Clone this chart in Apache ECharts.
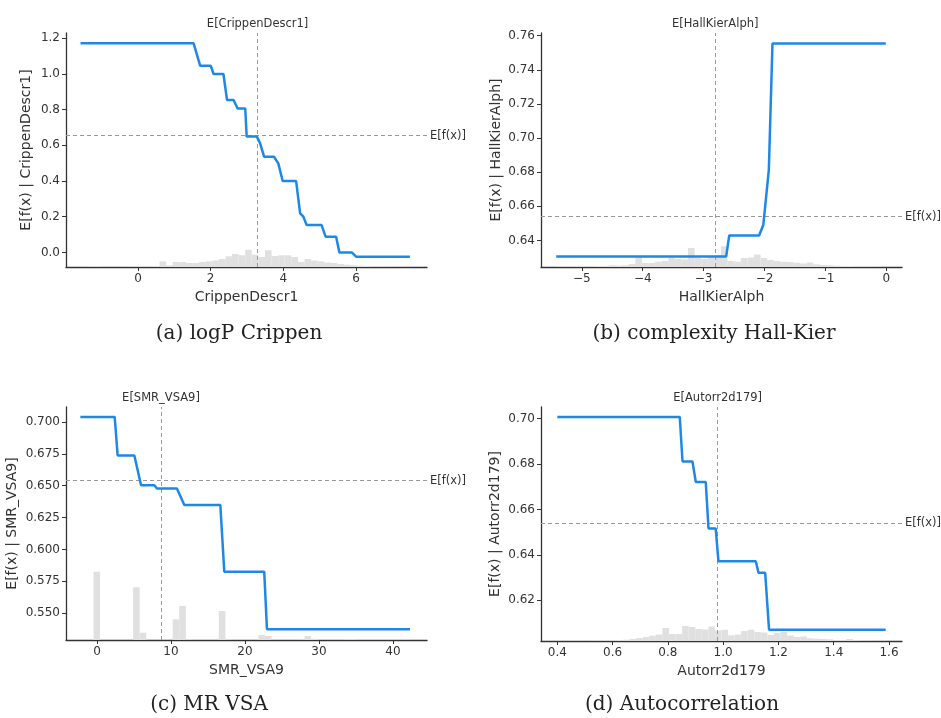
<!DOCTYPE html>
<html>
<head>
<meta charset="utf-8">
<script src="https://cdn.jsdelivr.net/npm/echarts@6/dist/echarts.min.js"></script>
<style>
  html, body { margin: 0; padding: 0; background: #fff; }
  #chart { width: 941px; height: 718px; }
</style>
</head>
<body>
<div id="chart"></div>
<script>
// (a) logP Crippen
var lineAx = [-1.58, 1.53, 1.71, 2.0, 2.08, 2.35, 2.45, 2.63, 2.74, 2.95, 2.99, 3.27, 3.36, 3.47, 3.74, 3.86, 3.98, 4.35, 4.46, 4.55, 4.64, 5.05, 5.16, 5.45, 5.54, 5.88, 6.0, 7.48];
var lineAy = [1.172, 1.172, 1.047, 1.047, 1.0, 1.0, 0.854, 0.854, 0.807, 0.807, 0.649, 0.649, 0.611, 0.536, 0.536, 0.499, 0.40, 0.40, 0.219, 0.20, 0.153, 0.153, 0.088, 0.088, 0.0, 0.0, -0.024, -0.024];
var histA = [0.3, 0.5, 0.5, 0.3, 0.3, 0.3, 0.3, 0.5, 0.5, 0.7, 0.7, 1, 5.7, 1.7, 5, 5, 4, 4, 5, 5.7,
             6.5, 8, 10.7, 13, 11.7, 17.3, 12.3, 10, 16.7, 11, 11.7, 11.7, 10, 5, 8, 6.5, 5.7, 4.5, 4, 3,
             2.3, 1.7, 1.3, 1, 0.7, 0.5, 0.5, 0.3, 0.3, 0.3];
var xTicksA = [0, 2, 4, 6];
var yTicksA = [0, 0.2, 0.4, 0.6, 0.8, 1.0, 1.2];
var expXA = 3.29;

// (b) complexity Hall-Kier
var lineBx = [-5.42, -2.63, -2.58, -2.09, -2.02, -1.93, -1.87, -0.01];
var lineBy = [0.6306, 0.6306, 0.6429, 0.6429, 0.6492, 0.6814, 0.7555, 0.7555];
var histB = [0.5, 0.5, 0.5, 0.7, 0.7, 0.7, 1, 1, 1.7, 1.3, 1.7, 3, 10, 4, 4, 5.3, 6, 9, 8, 7.5,
             19, 9, 8, 11, 12, 20.7, 6, 5.3, 9, 9.5, 12.5, 9, 7, 6, 5.3, 5, 4.3, 3.5, 4.5, 2.7,
             2, 1.7, 1.3, 1, 1, 0.7, 0.7, 0.5, 0.5, 0.3];
var xTicksB = [-5, -4, -3, -2, -1, 0];
var yTicksB = [0.64, 0.66, 0.68, 0.70, 0.72, 0.74, 0.76];
var expXB = -2.81;

// (c) MR VSA
var lineCx = [-2.25, 2.39, 2.79, 5.05, 5.95, 7.75, 8.1, 10.8, 11.8, 16.67, 17.2, 22.6, 22.97, 42.3];
var lineCy = [0.7039, 0.7039, 0.6737, 0.6737, 0.6504, 0.6504, 0.6478, 0.6478, 0.6348, 0.6348, 0.5826, 0.5826, 0.5374, 0.5374];
var histC = [0, 0, 68.3, 0, 0, 0, 0, 0, 52.7, 7.3, 0, 0, 0, 0, 20.7, 34, 0.7, 0.3, 0.3, 0.3,
             0.3, 29, 0.7, 0.3, 0.3, 0.3, 0.3, 5, 4, 0.3, 0.3, 0.3, 0.3, 0.5, 4, 1.3, 0.3, 0.3, 0.3, 0.3,
             0.7, 0.7, 0.3, 0.3, 0.3, 0.3, 0.3, 0.3, 0.3, 0.3];
var xTicksC = [0, 10, 20, 30, 40];
var yTicksC = [0.55, 0.575, 0.6, 0.625, 0.65, 0.675, 0.70];
var expXC = 8.65;

// (d) Autocorrelation
var lineDx = [0.4, 0.843, 0.853, 0.889, 0.901, 0.937, 0.947, 0.973, 0.983, 1.118, 1.128, 1.152, 1.166, 1.588];
var lineDy = [0.7007, 0.7007, 0.6811, 0.6811, 0.6721, 0.6721, 0.6516, 0.6516, 0.6372, 0.6372, 0.6321, 0.6321, 0.6071, 0.6071];
var histD = [0.3, 0.3, 0.3, 0.3, 0.3, 0.5, 0.5, 0.7, 0.7, 1, 1.3, 2, 3, 4, 5.3, 6.5, 13, 7, 7, 15,
             14, 12, 11.5, 14.5, 10.5, 11.3, 5.7, 6.5, 10, 11.3, 9, 8.5, 6, 8, 9, 5.5, 4, 4.5, 2.7, 2.3,
             2, 1.7, 1, 1, 2, 1, 0.7, 0.5, 0.3, 0.3];
var xTicksD = [0.4, 0.6, 0.8, 1.0, 1.2, 1.4, 1.6];
var yTicksD = [0.62, 0.64, 0.66, 0.68, 0.70];
var expXD = 0.98;

// same model for all four panels
var expFx = 0.654;

var BLUE = '#1E88E5';
var AXIS = '#333';
var TXT = '#333';

var panels = [
    {grid: {left: 66, top: 33, width: 361, height: 234}, xr: [-1.98, 7.95], yr: [-0.082, 1.23],
     lx: lineAx, ly: lineAy, hist: histA, xt: xTicksA, yt: yTicksA, xd: 0, yd: 1, ex: expXA,
     feat: 'CrippenDescr1', yGap: 33},
    {grid: {left: 541, top: 33, width: 361, height: 234}, xr: [-5.67, 0.256], yr: [0.6244, 0.7616],
     lx: lineBx, ly: lineBy, hist: histB, xt: xTicksB, yt: yTicksB, xd: 0, yd: 2, ex: expXB,
     feat: 'HallKierAlph', yGap: 38},
    {grid: {left: 66, top: 407, width: 361, height: 233}, xr: [-4.19, 44.6], yr: [0.529, 0.7117],
     lx: lineCx, ly: lineCy, hist: histC, xt: xTicksC, yt: yTicksC, xd: 0, yd: 3, ex: expXC,
     feat: 'SMR_VSA9', yGap: 47},
    {grid: {left: 541, top: 407, width: 361, height: 234}, xr: [0.341, 1.647], yr: [0.6021, 0.7051],
     lx: lineDx, ly: lineDy, hist: histD, xt: xTicksD, yt: yTicksD, xd: 1, yd: 2, ex: expXD,
     feat: 'Autorr2d179', yGap: 39}
];

function fmt(d) {
    return function (v) { return v.toFixed(d).replace('-', '\u2212'); };
}

var grids = [], xAxes = [], yAxes = [], series = [];

panels.forEach(function (p, i) {
    var g = p.grid;
    grids.push({left: g.left, top: g.top, width: g.width, height: g.height, outerBoundsMode: 'none'});

    xAxes.push({
        type: 'value', gridIndex: i, min: p.xr[0], max: p.xr[1],
        name: p.feat, nameLocation: 'middle', nameGap: 23,
        nameTextStyle: {fontSize: 14, color: TXT, fontFamily: 'DejaVu Sans'},
        axisLine: {show: true, onZero: false, lineStyle: {color: AXIS, width: 1.3}},
        axisTick: {show: true, length: 4, customValues: p.xt, lineStyle: {color: AXIS}},
        axisLabel: {customValues: p.xt, formatter: fmt(p.xd), fontSize: 12, color: TXT,
                    fontFamily: 'DejaVu Sans', margin: 6},
        splitLine: {show: false}
    });

    yAxes.push({
        type: 'value', gridIndex: i, min: p.yr[0], max: p.yr[1],
        name: 'E[f(x) | ' + p.feat + ']', nameLocation: 'middle', nameGap: p.yGap,
        nameTextStyle: {fontSize: 14, color: TXT, fontFamily: 'DejaVu Sans'},
        axisLine: {show: true, onZero: false, lineStyle: {color: AXIS, width: 1.3}},
        axisTick: {show: true, length: 4, customValues: p.yt, lineStyle: {color: AXIS}},
        axisLabel: {customValues: p.yt, formatter: fmt(p.yd), fontSize: 12, color: TXT,
                    fontFamily: 'DejaVu Sans', margin: 6},
        splitLine: {show: false}
    });
    // hidden twin axis for the histogram
    yAxes.push({type: 'value', gridIndex: i, min: 0, max: g.height, show: false});

    // 50 equal bins spanning the line's x range
    var x0 = p.lx[0], x1 = p.lx[p.lx.length - 1];
    var bw = (x1 - x0) / p.hist.length;
    var bins = p.hist.map(function (c, k) { return [x0 + k * bw, x0 + (k + 1) * bw, c]; });

    series.push({
        type: 'custom', xAxisIndex: i, yAxisIndex: i * 2 + 1, z: 1, silent: true,
        data: bins,
        encode: {x: [0, 1], y: 2},
        renderItem: function (params, api) {
            var a = api.coord([api.value(0), 0]);
            var b = api.coord([api.value(1), api.value(2)]);
            return {type: 'rect', shape: {x: a[0], y: b[1], width: b[0] - a[0], height: a[1] - b[1]},
                    style: {fill: '#e0e0e0'}};
        }
    });

    series.push({
        type: 'line', xAxisIndex: i, yAxisIndex: i * 2, z: 3,
        data: p.lx.map(function (x, k) { return [x, p.ly[k]]; }),
        showSymbol: false, silent: true,
        lineStyle: {color: BLUE, width: 2.5},
        markLine: {
            symbol: 'none', silent: true, z: 2, precision: 4,
            lineStyle: {type: [4, 3], color: '#999', width: 1},
            label: {color: TXT, fontSize: 11.5, fontFamily: 'DejaVu Sans', distance: 3},
            data: [
                {xAxis: p.ex, label: {position: 'end', formatter: 'E[' + p.feat + ']'}},
                {yAxis: expFx, label: {position: 'end', formatter: 'E[f(x)]'}}
            ]
        }
    });
});

var captions = [
    {text: '(a) logP Crippen', x: 239, y: 334},
    {text: '(b) complexity Hall-Kier', x: 714, y: 334},
    {text: '(c) MR VSA', x: 209, y: 705},
    {text: '(d) Autocorrelation', x: 682, y: 705}
];

var chart = echarts.init(document.getElementById('chart'));
chart.setOption({
    animation: false,
    grid: grids,
    xAxis: xAxes,
    yAxis: yAxes,
    series: series,
    graphic: captions.map(function (c) {
        return {type: 'text', x: c.x, y: c.y,
                style: {text: c.text, font: '20px "DejaVu Serif"', fill: '#222',
                        textAlign: 'center', textVerticalAlign: 'middle'}};
    })
});
</script>
</body>
</html>
